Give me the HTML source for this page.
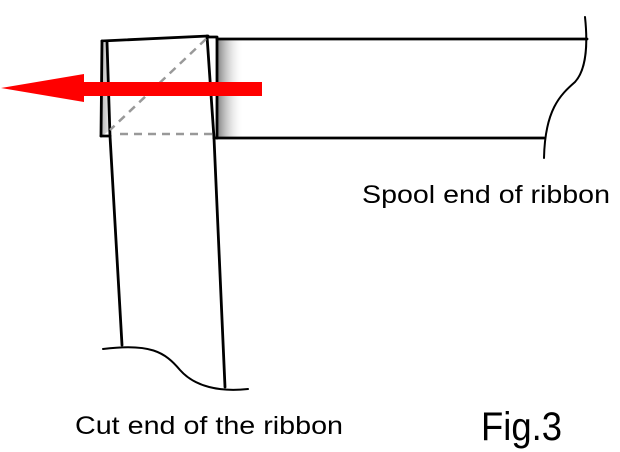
<!DOCTYPE html>
<html><head><style>body{margin:0;background:#fff}svg{display:block}</style></head>
<body>
<svg width="620" height="452" viewBox="0 0 620 452" xmlns="http://www.w3.org/2000/svg">
<defs>
<linearGradient id="sh" x1="0" x2="1" y1="0" y2="0">
<stop offset="0" stop-color="#888"/><stop offset="1" stop-color="#fff" stop-opacity="0"/>
</linearGradient>
<linearGradient id="sh2" x1="0" x2="1" y1="0" y2="0">
<stop offset="0" stop-color="#bbb"/><stop offset="1" stop-color="#eee"/>
</linearGradient>
</defs>
<rect x="218" y="40" width="26" height="98" fill="url(#sh)"/>
<polygon points="102,43 108,43 110,130 102,136" fill="url(#sh2)"/>
<g fill="none" stroke="#000" stroke-width="2.8" stroke-linecap="round">
<line x1="217" y1="39" x2="587" y2="39"/>
<line x1="217" y1="138" x2="544" y2="138"/>
<path d="M585,17 C588,45 586,70 575,82 C560,95 545,110 544,158" stroke-width="2"/>
<line x1="217" y1="38" x2="217" y2="138"/>
<line x1="207" y1="37" x2="217" y2="37"/>
<line x1="214" y1="138" x2="217" y2="138"/>
<line x1="102" y1="41" x2="101" y2="136"/>
<line x1="102" y1="41" x2="208" y2="36"/>
<line x1="207" y1="36" x2="214" y2="138"/>
<line x1="101" y1="136" x2="110" y2="136"/>
<line x1="107" y1="42" x2="110" y2="136"/>
<line x1="110" y1="136" x2="122" y2="345"/>
<line x1="214" y1="138" x2="225" y2="387"/>
<path d="M103,349 C150,343 165,352 180,370 C195,387 220,392 248,389" stroke-width="2"/>
</g>
<g fill="none" stroke="#999" stroke-width="2.5" stroke-dasharray="8,6">
<line x1="206" y1="39" x2="110" y2="130"/>
<line x1="120" y1="134" x2="212" y2="134"/>
</g>
<rect x="80" y="82" width="182" height="14" fill="#f00"/>
<polygon points="1,88 84,74 84,102" fill="#f00"/>
<g font-family="Liberation Sans, sans-serif" fill="#000">
<text x="362" y="203" font-size="25" textLength="248" lengthAdjust="spacingAndGlyphs">Spool end of ribbon</text>
<text x="75" y="434" font-size="25" textLength="268" lengthAdjust="spacingAndGlyphs">Cut end of the ribbon</text>
<text x="481" y="440" font-size="40" textLength="81" lengthAdjust="spacingAndGlyphs">Fig.3</text>
</g>
</svg>
</body></html>
